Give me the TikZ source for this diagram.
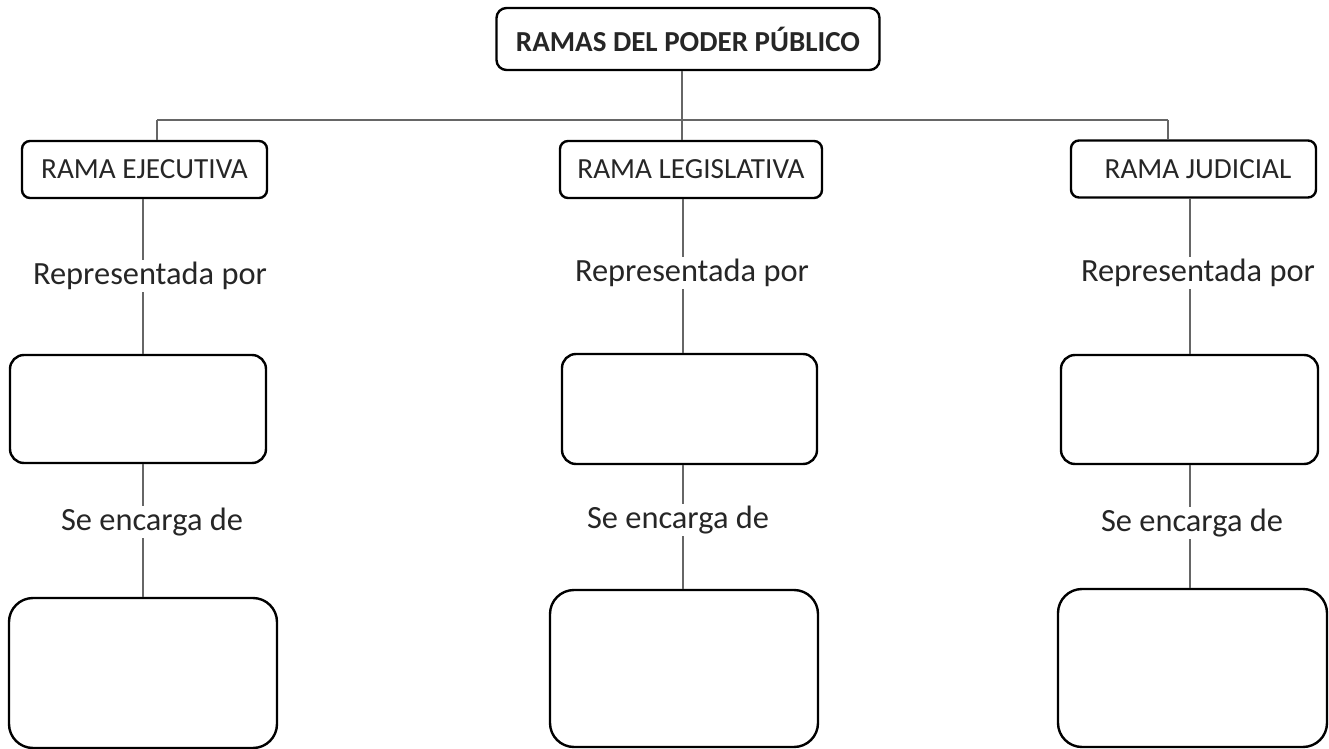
\documentclass[tikz,border=0pt]{standalone}
\usepackage{fontspec}
\setmainfont{Carlito}
\usepackage{tikz}
\usetikzlibrary{positioning}

\begin{document}
\begin{tikzpicture}[x=0.5pt,y=-0.5pt,
	caja/.style={draw=black,line width=1.2pt,rounded corners=#1,inner sep=0pt,text=black!85},
	caja/.default=7pt,
	linea/.style={draw=black!60,line width=0.6pt},
	etiqueta/.style={inner sep=1pt,font=\fontsize{16.2}{18}\selectfont,text=black!85},
	rama/.style={caja=4pt,minimum height=28.5pt,font=\fontsize{14.6}{16}\selectfont}]
	  \useasboundingbox (0,0) rectangle (1329,749);
	  \coordinate (c1) at (143,0);
	  \coordinate (c2) at (683,0);
	  \coordinate (c3) at (1190,0);
	  \coordinate (hl) at (157,120);
	  \coordinate (hm) at (682,120);
	  \coordinate (hr) at (1168,120);

	  \node[caja=5pt,minimum width=191.5pt,minimum height=31pt,font=\bfseries\fontsize{14.5}{16}\selectfont] (poder) at (688,39) {RAMAS DEL PODER PÚBLICO};

	  \node[rama,minimum width=122.5pt] (ejec) at (144.5,169.5) {RAMA EJECUTIVA};
	  \node[rama,minimum width=131pt]   (legi) at (691,169.5) {RAMA LEGISLATIVA};
	  \node[rama,minimum width=122.5pt] (judi) at (1193.5,169) {\hspace*{4.5pt}RAMA JUDICIAL};

	  \node[etiqueta] (rep1) at (150,276) {Representada por};
	  \node[etiqueta] (rep2) at (692,273) {Representada por};
	  \node[etiqueta] (rep3) at (1198,273) {Representada por};

	  \node[caja,minimum width=128pt,minimum height=54pt]   (quien1) at (138,409) {};
	  \node[caja,minimum width=127.5pt,minimum height=55pt] (quien2) at (689.5,409) {};
	  \node[caja,minimum width=128.5pt,minimum height=54.5pt] (quien3) at (1189.5,409.5) {};

	  \node[etiqueta] (enc1) at (152,522) {Se encarga de};
	  \node[etiqueta] (enc2) at (678,520) {Se encarga de};
	  \node[etiqueta] (enc3) at (1192,523) {Se encarga de};

	  \node[caja=12pt,minimum width=134pt,minimum height=75pt]  (tarea1) at (143,673) {};
	  \node[caja=12pt,minimum width=134pt,minimum height=78.5pt] (tarea2) at (684,668.5) {};
	  \node[caja=12pt,minimum width=134.5pt,minimum height=79pt] (tarea3) at (1192.5,668) {};

	  % arbol superior
	  \path[linea] (poder.south -| hm) edge (hm)
	        (ejec.north -| hl) edge (hl)
	        (hl) edge (hr)
	        (hm) edge (legi.north -| hm)
	        (hr) edge (judi.north -| hr);

	  % columnas
	  \path[linea] (ejec.south -| c1) edge (rep1.north -| c1)
	        (rep1.south -| c1) edge (quien1.north -| c1)
	        (quien1.south -| c1) edge (enc1.north -| c1)
	        (enc1.south -| c1) edge (tarea1.north -| c1);
	  \path[linea] (legi.south -| c2) edge (rep2.north -| c2)
	        (rep2.south -| c2) edge (quien2.north -| c2)
	        (quien2.south -| c2) edge (enc2.north -| c2)
	        (enc2.south -| c2) edge (tarea2.north -| c2);
	  \path[linea] (judi.south -| c3) edge (rep3.north -| c3)
	        (rep3.south -| c3) edge (quien3.north -| c3)
	        (quien3.south -| c3) edge (enc3.north -| c3)
	        (enc3.south -| c3) edge (tarea3.north -| c3);
\end{tikzpicture}
\end{document}
